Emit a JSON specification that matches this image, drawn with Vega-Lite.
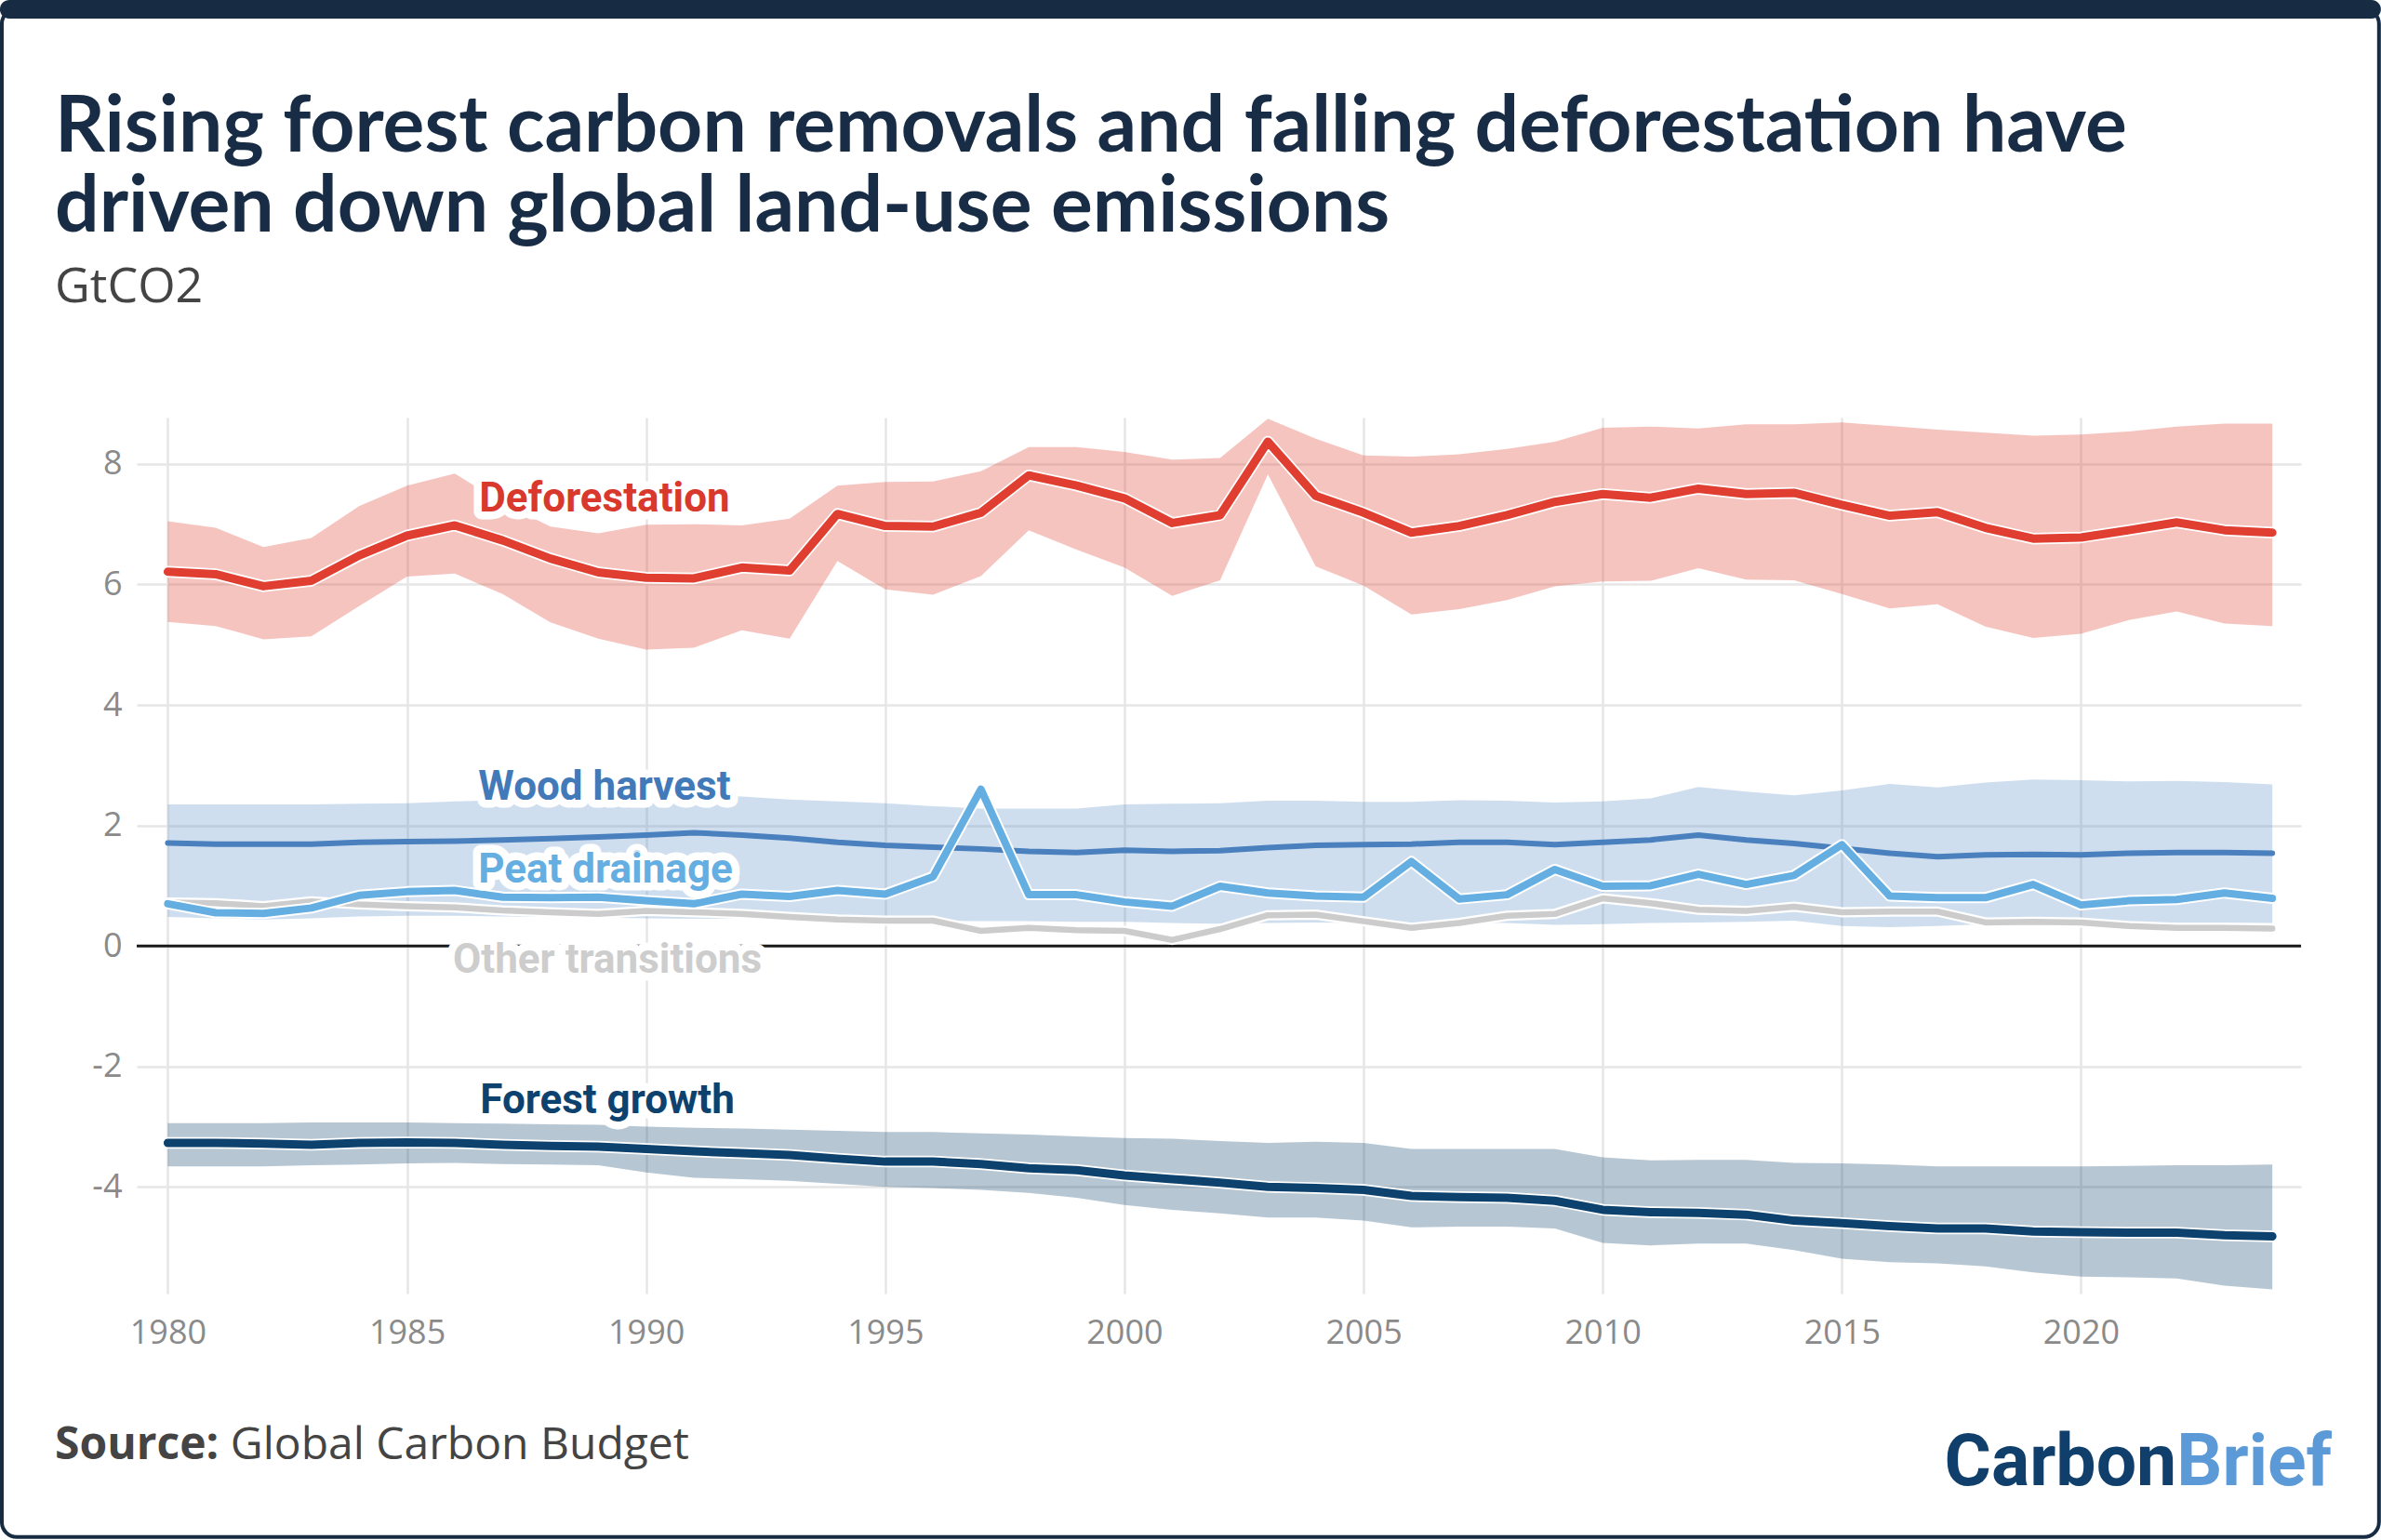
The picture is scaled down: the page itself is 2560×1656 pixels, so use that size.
{
  "$schema": "https://vega.github.io/schema/vega-lite/v6.json",
  "autosize": "none",
  "width": 2327,
  "height": 942,
  "padding": {"left": 147, "top": 449, "right": 86, "bottom": 265},
  "background": "white",
  "datasets": {
    "series": [
      {"year": 1980, "def": 6.21, "def_lo": 5.38, "def_hi": 7.05, "wood": 1.71, "wood_lo": 0.48, "wood_hi": 2.35, "peat": 0.70, "other": 0.72, "forest": -3.27, "forest_lo": -3.66, "forest_hi": -2.94},
      {"year": 1981, "def": 6.17, "def_lo": 5.31, "def_hi": 6.94, "wood": 1.69, "wood_lo": 0.46, "wood_hi": 2.35, "peat": 0.55, "other": 0.71, "forest": -3.27, "forest_lo": -3.66, "forest_hi": -2.94},
      {"year": 1982, "def": 5.97, "def_lo": 5.09, "def_hi": 6.62, "wood": 1.69, "wood_lo": 0.44, "wood_hi": 2.35, "peat": 0.54, "other": 0.66, "forest": -3.28, "forest_lo": -3.66, "forest_hi": -2.94},
      {"year": 1983, "def": 6.06, "def_lo": 5.14, "def_hi": 6.77, "wood": 1.69, "wood_lo": 0.46, "wood_hi": 2.35, "peat": 0.63, "other": 0.74, "forest": -3.30, "forest_lo": -3.64, "forest_hi": -2.93},
      {"year": 1984, "def": 6.48, "def_lo": 5.64, "def_hi": 7.30, "wood": 1.72, "wood_lo": 0.49, "wood_hi": 2.36, "peat": 0.84, "other": 0.69, "forest": -3.27, "forest_lo": -3.63, "forest_hi": -2.93},
      {"year": 1985, "def": 6.81, "def_lo": 6.13, "def_hi": 7.64, "wood": 1.73, "wood_lo": 0.50, "wood_hi": 2.37, "peat": 0.90, "other": 0.66, "forest": -3.26, "forest_lo": -3.61, "forest_hi": -2.93},
      {"year": 1986, "def": 6.98, "def_lo": 6.18, "def_hi": 7.84, "wood": 1.74, "wood_lo": 0.50, "wood_hi": 2.40, "peat": 0.92, "other": 0.64, "forest": -3.27, "forest_lo": -3.60, "forest_hi": -2.94},
      {"year": 1987, "def": 6.73, "def_lo": 5.84, "def_hi": 7.35, "wood": 1.76, "wood_lo": 0.49, "wood_hi": 2.42, "peat": 0.81, "other": 0.59, "forest": -3.30, "forest_lo": -3.62, "forest_hi": -2.95},
      {"year": 1988, "def": 6.43, "def_lo": 5.37, "def_hi": 6.96, "wood": 1.78, "wood_lo": 0.48, "wood_hi": 2.44, "peat": 0.80, "other": 0.56, "forest": -3.32, "forest_lo": -3.63, "forest_hi": -2.96},
      {"year": 1989, "def": 6.20, "def_lo": 5.10, "def_hi": 6.85, "wood": 1.81, "wood_lo": 0.47, "wood_hi": 2.47, "peat": 0.81, "other": 0.53, "forest": -3.33, "forest_lo": -3.64, "forest_hi": -2.97},
      {"year": 1990, "def": 6.11, "def_lo": 4.92, "def_hi": 6.99, "wood": 1.84, "wood_lo": 0.46, "wood_hi": 2.50, "peat": 0.75, "other": 0.58, "forest": -3.37, "forest_lo": -3.76, "forest_hi": -3.00},
      {"year": 1991, "def": 6.10, "def_lo": 4.95, "def_hi": 7.00, "wood": 1.88, "wood_lo": 0.45, "wood_hi": 2.52, "peat": 0.70, "other": 0.56, "forest": -3.41, "forest_lo": -3.85, "forest_hi": -3.02},
      {"year": 1992, "def": 6.28, "def_lo": 5.24, "def_hi": 6.98, "wood": 1.84, "wood_lo": 0.45, "wood_hi": 2.48, "peat": 0.86, "other": 0.53, "forest": -3.44, "forest_lo": -3.87, "forest_hi": -3.03},
      {"year": 1993, "def": 6.23, "def_lo": 5.10, "def_hi": 7.09, "wood": 1.79, "wood_lo": 0.44, "wood_hi": 2.43, "peat": 0.82, "other": 0.48, "forest": -3.47, "forest_lo": -3.90, "forest_hi": -3.05},
      {"year": 1994, "def": 7.17, "def_lo": 6.39, "def_hi": 7.64, "wood": 1.72, "wood_lo": 0.43, "wood_hi": 2.40, "peat": 0.92, "other": 0.44, "forest": -3.53, "forest_lo": -3.95, "forest_hi": -3.07},
      {"year": 1995, "def": 6.97, "def_lo": 5.92, "def_hi": 7.70, "wood": 1.67, "wood_lo": 0.42, "wood_hi": 2.37, "peat": 0.86, "other": 0.42, "forest": -3.58, "forest_lo": -4.00, "forest_hi": -3.09},
      {"year": 1996, "def": 6.96, "def_lo": 5.83, "def_hi": 7.71, "wood": 1.64, "wood_lo": 0.42, "wood_hi": 2.32, "peat": 1.15, "other": 0.42, "forest": -3.58, "forest_lo": -4.02, "forest_hi": -3.09},
      {"year": 1997, "def": 7.19, "def_lo": 6.14, "def_hi": 7.88, "wood": 1.61, "wood_lo": 0.41, "wood_hi": 2.28, "peat": 2.60, "other": 0.25, "forest": -3.62, "forest_lo": -4.05, "forest_hi": -3.11},
      {"year": 1998, "def": 7.81, "def_lo": 6.90, "def_hi": 8.28, "wood": 1.57, "wood_lo": 0.41, "wood_hi": 2.28, "peat": 0.85, "other": 0.30, "forest": -3.69, "forest_lo": -4.10, "forest_hi": -3.13},
      {"year": 1999, "def": 7.64, "def_lo": 6.58, "def_hi": 8.28, "wood": 1.55, "wood_lo": 0.40, "wood_hi": 2.28, "peat": 0.85, "other": 0.26, "forest": -3.72, "forest_lo": -4.18, "forest_hi": -3.16},
      {"year": 2000, "def": 7.43, "def_lo": 6.28, "def_hi": 8.20, "wood": 1.59, "wood_lo": 0.40, "wood_hi": 2.35, "peat": 0.73, "other": 0.25, "forest": -3.81, "forest_lo": -4.30, "forest_hi": -3.19},
      {"year": 2001, "def": 7.02, "def_lo": 5.81, "def_hi": 8.07, "wood": 1.57, "wood_lo": 0.38, "wood_hi": 2.36, "peat": 0.66, "other": 0.10, "forest": -3.87, "forest_lo": -4.38, "forest_hi": -3.20},
      {"year": 2002, "def": 7.15, "def_lo": 6.07, "def_hi": 8.10, "wood": 1.58, "wood_lo": 0.37, "wood_hi": 2.37, "peat": 0.99, "other": 0.28, "forest": -3.93, "forest_lo": -4.44, "forest_hi": -3.24},
      {"year": 2003, "def": 8.37, "def_lo": 7.83, "def_hi": 8.75, "wood": 1.63, "wood_lo": 0.38, "wood_hi": 2.41, "peat": 0.88, "other": 0.51, "forest": -4.00, "forest_lo": -4.51, "forest_hi": -3.27},
      {"year": 2004, "def": 7.47, "def_lo": 6.30, "def_hi": 8.42, "wood": 1.67, "wood_lo": 0.39, "wood_hi": 2.41, "peat": 0.83, "other": 0.52, "forest": -4.02, "forest_lo": -4.51, "forest_hi": -3.25},
      {"year": 2005, "def": 7.19, "def_lo": 5.98, "def_hi": 8.14, "wood": 1.68, "wood_lo": 0.38, "wood_hi": 2.39, "peat": 0.81, "other": 0.41, "forest": -4.05, "forest_lo": -4.56, "forest_hi": -3.27},
      {"year": 2006, "def": 6.86, "def_lo": 5.50, "def_hi": 8.12, "wood": 1.69, "wood_lo": 0.37, "wood_hi": 2.39, "peat": 1.40, "other": 0.30, "forest": -4.15, "forest_lo": -4.67, "forest_hi": -3.37},
      {"year": 2007, "def": 6.97, "def_lo": 5.59, "def_hi": 8.16, "wood": 1.72, "wood_lo": 0.39, "wood_hi": 2.42, "peat": 0.78, "other": 0.38, "forest": -4.17, "forest_lo": -4.66, "forest_hi": -3.37},
      {"year": 2008, "def": 7.15, "def_lo": 5.74, "def_hi": 8.25, "wood": 1.72, "wood_lo": 0.38, "wood_hi": 2.41, "peat": 0.85, "other": 0.50, "forest": -4.18, "forest_lo": -4.66, "forest_hi": -3.37},
      {"year": 2009, "def": 7.37, "def_lo": 5.97, "def_hi": 8.37, "wood": 1.68, "wood_lo": 0.35, "wood_hi": 2.38, "peat": 1.27, "other": 0.53, "forest": -4.23, "forest_lo": -4.69, "forest_hi": -3.37},
      {"year": 2010, "def": 7.50, "def_lo": 6.05, "def_hi": 8.60, "wood": 1.72, "wood_lo": 0.36, "wood_hi": 2.40, "peat": 0.99, "other": 0.79, "forest": -4.38, "forest_lo": -4.93, "forest_hi": -3.51},
      {"year": 2011, "def": 7.44, "def_lo": 6.06, "def_hi": 8.62, "wood": 1.76, "wood_lo": 0.38, "wood_hi": 2.45, "peat": 1.00, "other": 0.71, "forest": -4.42, "forest_lo": -4.97, "forest_hi": -3.56},
      {"year": 2012, "def": 7.59, "def_lo": 6.27, "def_hi": 8.59, "wood": 1.84, "wood_lo": 0.39, "wood_hi": 2.64, "peat": 1.19, "other": 0.60, "forest": -4.43, "forest_lo": -4.94, "forest_hi": -3.55},
      {"year": 2013, "def": 7.50, "def_lo": 6.08, "def_hi": 8.66, "wood": 1.76, "wood_lo": 0.40, "wood_hi": 2.56, "peat": 1.02, "other": 0.58, "forest": -4.46, "forest_lo": -4.94, "forest_hi": -3.55},
      {"year": 2014, "def": 7.52, "def_lo": 6.07, "def_hi": 8.66, "wood": 1.70, "wood_lo": 0.42, "wood_hi": 2.50, "peat": 1.17, "other": 0.65, "forest": -4.56, "forest_lo": -5.05, "forest_hi": -3.60},
      {"year": 2015, "def": 7.32, "def_lo": 5.84, "def_hi": 8.69, "wood": 1.62, "wood_lo": 0.33, "wood_hi": 2.58, "peat": 1.68, "other": 0.56, "forest": -4.60, "forest_lo": -5.19, "forest_hi": -3.61},
      {"year": 2016, "def": 7.14, "def_lo": 5.60, "def_hi": 8.63, "wood": 1.54, "wood_lo": 0.31, "wood_hi": 2.69, "peat": 0.83, "other": 0.57, "forest": -4.65, "forest_lo": -5.25, "forest_hi": -3.63},
      {"year": 2017, "def": 7.20, "def_lo": 5.67, "def_hi": 8.57, "wood": 1.48, "wood_lo": 0.33, "wood_hi": 2.63, "peat": 0.80, "other": 0.57, "forest": -4.69, "forest_lo": -5.27, "forest_hi": -3.66},
      {"year": 2018, "def": 6.94, "def_lo": 5.30, "def_hi": 8.52, "wood": 1.51, "wood_lo": 0.36, "wood_hi": 2.71, "peat": 0.80, "other": 0.39, "forest": -4.69, "forest_lo": -5.32, "forest_hi": -3.66},
      {"year": 2019, "def": 6.76, "def_lo": 5.11, "def_hi": 8.47, "wood": 1.52, "wood_lo": 0.37, "wood_hi": 2.76, "peat": 1.02, "other": 0.40, "forest": -4.74, "forest_lo": -5.42, "forest_hi": -3.66},
      {"year": 2020, "def": 6.78, "def_lo": 5.18, "def_hi": 8.49, "wood": 1.51, "wood_lo": 0.38, "wood_hi": 2.75, "peat": 0.68, "other": 0.39, "forest": -4.75, "forest_lo": -5.49, "forest_hi": -3.66},
      {"year": 2021, "def": 6.90, "def_lo": 5.41, "def_hi": 8.54, "wood": 1.54, "wood_lo": 0.38, "wood_hi": 2.73, "peat": 0.75, "other": 0.33, "forest": -4.76, "forest_lo": -5.50, "forest_hi": -3.65},
      {"year": 2022, "def": 7.03, "def_lo": 5.55, "def_hi": 8.62, "wood": 1.55, "wood_lo": 0.38, "wood_hi": 2.74, "peat": 0.77, "other": 0.30, "forest": -4.76, "forest_lo": -5.52, "forest_hi": -3.64},
      {"year": 2023, "def": 6.90, "def_lo": 5.35, "def_hi": 8.67, "wood": 1.55, "wood_lo": 0.38, "wood_hi": 2.72, "peat": 0.88, "other": 0.30, "forest": -4.80, "forest_lo": -5.64, "forest_hi": -3.64},
      {"year": 2024, "def": 6.86, "def_lo": 5.31, "def_hi": 8.67, "wood": 1.54, "wood_lo": 0.38, "wood_hi": 2.68, "peat": 0.79, "other": 0.29, "forest": -4.82, "forest_lo": -5.70, "forest_hi": -3.63}
    ],
    "labels": [
      {"label": "Deforestation", "year": 1989.13, "value": 7.41},
      {"label": "Wood harvest", "year": 1989.13, "value": 2.62},
      {"label": "Peat drainage", "year": 1989.15, "value": 1.26},
      {"label": "Other transitions", "year": 1989.19, "value": -0.24},
      {"label": "Forest growth", "year": 1989.19, "value": -2.57}
    ],
    "one": [{"k": 1}]
  },
  "layer": [
    {
      "data": {"name": "series"},
      "mark": {"type": "area", "color": "#de3f31", "opacity": 0.31},
      "encoding": {
        "x": {
          "field": "year",
          "type": "quantitative",
          "scale": {"domain": [1979.35, 2024.6], "nice": false, "zero": false},
          "axis": {
            "values": [1980, 1985, 1990, 1995, 2000, 2005, 2010, 2015, 2020],
            "format": "d",
            "title": null,
            "domain": false,
            "ticks": false,
            "labelFont": "Open Sans",
            "labelFontSize": 36,
            "labelColor": "#8a8a8a",
            "labelPadding": 25,
            "grid": true,
            "gridColor": "#e6e6e6",
            "gridWidth": 2.5
          }
        },
        "y": {
          "field": "def_lo",
          "type": "quantitative",
          "scale": {"domain": [-5.77, 8.77], "nice": false, "zero": false},
          "axis": {
            "values": [-4, -2, 0, 2, 4, 6, 8],
            "labelExpr": "datum.value < 0 ? '-' + abs(datum.value) : '' + datum.value",
            "title": null,
            "domain": false,
            "ticks": false,
            "labelFont": "Open Sans",
            "labelFontSize": 36,
            "labelColor": "#8a8a8a",
            "labelPadding": 16,
            "grid": true,
            "gridColor": "#e6e6e6",
            "gridWidth": 2.5
          }
        },
        "y2": {"field": "def_hi"}
      }
    },
    {
      "data": {"name": "series"},
      "mark": {"type": "area", "color": "#4a86c5", "opacity": 0.27},
      "encoding": {"x": {"field": "year", "type": "quantitative"}, "y": {"field": "wood_lo", "type": "quantitative"}, "y2": {"field": "wood_hi"}}
    },
    {
      "data": {"name": "series"},
      "mark": {"type": "area", "color": "#0e416b", "opacity": 0.3},
      "encoding": {"x": {"field": "year", "type": "quantitative"}, "y": {"field": "forest_lo", "type": "quantitative"}, "y2": {"field": "forest_hi"}}
    },
    {
      "data": {"name": "one"},
      "mark": {"type": "rule", "color": "#1a1a1a", "strokeWidth": 3},
      "encoding": {"y": {"datum": 0, "type": "quantitative"}}
    },
    {
      "data": {"name": "series"},
      "mark": {"type": "line", "color": "white", "strokeWidth": 11, "strokeCap": "round", "strokeJoin": "round"},
      "encoding": {"x": {"field": "year", "type": "quantitative"}, "y": {"field": "other", "type": "quantitative"}}
    },
    {
      "data": {"name": "series"},
      "mark": {"type": "line", "color": "#cccccc", "strokeWidth": 6.5, "strokeCap": "round", "strokeJoin": "round"},
      "encoding": {"x": {"field": "year", "type": "quantitative"}, "y": {"field": "other", "type": "quantitative"}}
    },
    {
      "data": {"name": "series"},
      "mark": {"type": "line", "color": "#4a80bd", "strokeWidth": 6, "strokeCap": "round", "strokeJoin": "round"},
      "encoding": {"x": {"field": "year", "type": "quantitative"}, "y": {"field": "wood", "type": "quantitative"}}
    },
    {
      "data": {"name": "series"},
      "mark": {"type": "line", "color": "white", "strokeWidth": 12, "strokeCap": "round", "strokeJoin": "round"},
      "encoding": {"x": {"field": "year", "type": "quantitative"}, "y": {"field": "peat", "type": "quantitative"}}
    },
    {
      "data": {"name": "series"},
      "mark": {"type": "line", "color": "#64aee1", "strokeWidth": 8, "strokeCap": "round", "strokeJoin": "round"},
      "encoding": {"x": {"field": "year", "type": "quantitative"}, "y": {"field": "peat", "type": "quantitative"}}
    },
    {
      "data": {"name": "series"},
      "mark": {"type": "line", "color": "white", "strokeWidth": 12.5, "strokeCap": "round", "strokeJoin": "round"},
      "encoding": {"x": {"field": "year", "type": "quantitative"}, "y": {"field": "def", "type": "quantitative"}}
    },
    {
      "data": {"name": "series"},
      "mark": {"type": "line", "color": "#df3e30", "strokeWidth": 9, "strokeCap": "round", "strokeJoin": "round"},
      "encoding": {"x": {"field": "year", "type": "quantitative"}, "y": {"field": "def", "type": "quantitative"}}
    },
    {
      "data": {"name": "series"},
      "mark": {"type": "line", "color": "white", "strokeWidth": 12.5, "strokeCap": "round", "strokeJoin": "round"},
      "encoding": {"x": {"field": "year", "type": "quantitative"}, "y": {"field": "forest", "type": "quantitative"}}
    },
    {
      "data": {"name": "series"},
      "mark": {"type": "line", "color": "#0d426e", "strokeWidth": 9, "strokeCap": "round", "strokeJoin": "round"},
      "encoding": {"x": {"field": "year", "type": "quantitative"}, "y": {"field": "forest", "type": "quantitative"}}
    },
    {
      "data": {"name": "labels"},
      "mark": {"type": "text", "font": "Roboto", "fontSize": 44, "fontWeight": "bold", "align": "center", "baseline": "middle", "fill": "white", "stroke": "white", "strokeWidth": 17, "strokeJoin": "round"},
      "encoding": {
        "x": {"field": "year", "type": "quantitative"},
        "y": {"field": "value", "type": "quantitative"},
        "text": {"field": "label"}
      }
    },
    {
      "data": {"name": "labels"},
      "mark": {"type": "text", "font": "Roboto", "fontSize": 44, "fontWeight": "bold", "align": "center", "baseline": "middle"},
      "encoding": {
        "x": {"field": "year", "type": "quantitative"},
        "y": {"field": "value", "type": "quantitative"},
        "text": {"field": "label"},
        "color": {
          "field": "label",
          "type": "nominal",
          "scale": {
            "domain": ["Deforestation", "Wood harvest", "Peat drainage", "Other transitions", "Forest growth"],
            "range": ["#d9382c", "#4279b8", "#64aee1", "#cdcdcd", "#0d426e"]
          },
          "legend": null
        }
      }
    },
    {
      "data": {"name": "one"},
      "mark": {"type": "text", "text": ["Rising forest carbon removals and falling deforestation have", "driven down global land-use emissions"], "font": "Lato", "fontSize": 84, "fontWeight": "bold", "color": "#182d45", "align": "left", "baseline": "alphabetic", "lineHeight": 86},
      "encoding": {"x": {"datum": 1977.64, "type": "quantitative"}, "y": {"datum": 13.184, "type": "quantitative"}}
    },
    {
      "data": {"name": "one"},
      "mark": {"type": "text", "text": "GtCO2", "font": "Open Sans", "fontSize": 52, "color": "#444444", "align": "left", "baseline": "alphabetic"},
      "encoding": {"x": {"datum": 1977.64, "type": "quantitative"}, "y": {"datum": 10.684, "type": "quantitative"}}
    },
    {
      "data": {"name": "one"},
      "mark": {"type": "text", "text": "Source:", "font": "Open Sans", "fontSize": 48, "fontWeight": "bold", "color": "#444444", "align": "left", "baseline": "alphabetic"},
      "encoding": {"x": {"datum": 1977.64, "type": "quantitative"}, "y": {"datum": -8.52, "type": "quantitative"}}
    },
    {
      "data": {"name": "one"},
      "mark": {"type": "text", "text": "Global Carbon Budget", "font": "Open Sans", "fontSize": 48, "color": "#444444", "align": "left", "baseline": "alphabetic"},
      "encoding": {"x": {"datum": 1981.31, "type": "quantitative"}, "y": {"datum": -8.52, "type": "quantitative"}}
    },
    {
      "data": {"name": "one"},
      "mark": {"type": "text", "text": "Carbon", "font": "Roboto", "fontSize": 77, "fontWeight": "bold", "color": "#0f3f6a", "align": "right", "baseline": "alphabetic"},
      "encoding": {"x": {"datum": 2022.0, "type": "quantitative"}, "y": {"datum": -8.95, "type": "quantitative"}}
    },
    {
      "data": {"name": "one"},
      "mark": {"type": "text", "text": "Brief", "font": "Roboto", "fontSize": 77, "fontWeight": "bold", "color": "#5b9ad6", "align": "left", "baseline": "alphabetic"},
      "encoding": {"x": {"datum": 2022.0, "type": "quantitative"}, "y": {"datum": -8.95, "type": "quantitative"}}
    },
    {
      "data": {"name": "one"},
      "mark": {"type": "rect", "fill": "#172b43", "cornerRadius": 10},
      "encoding": {
        "x": {"datum": 1976.49, "type": "quantitative"},
        "x2": {"datum": 2026.27},
        "y": {"datum": 15.70, "type": "quantitative"},
        "y2": {"datum": 15.39}
      }
    },
    {
      "data": {"name": "one"},
      "mark": {"type": "rect", "fillOpacity": 0, "stroke": "#172b43", "strokeWidth": 4, "cornerRadius": 16},
      "encoding": {
        "x": {"datum": 1976.53, "type": "quantitative"},
        "x2": {"datum": 2026.23},
        "y": {"datum": 15.55, "type": "quantitative"},
        "y2": {"datum": -9.81}
      }
    }
  ],
  "config": {"view": {"stroke": null}}
}
